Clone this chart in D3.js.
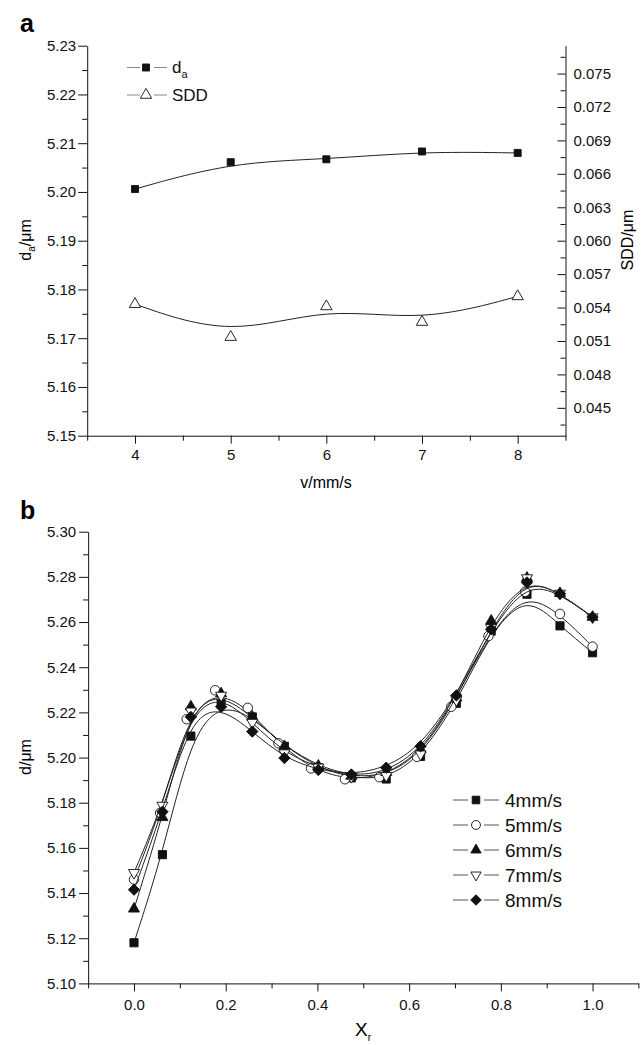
<!DOCTYPE html>
<html>
<head>
<meta charset="utf-8">
<script src="https://cdn.jsdelivr.net/npm/d3@7"></script>
<style>
  body { margin: 0; background: #fff; }
  svg { display: block; font-family: "Liberation Sans", Arial, sans-serif; }
  .axis path, .axis line { stroke: #111; }
  .axis text { font-size: 15px; fill: #111; }
</style>
</head>
<body>
<svg id="chart" width="641" height="1045"></svg>
<script>
// ---- panel a data ----
const speeds = [4, 5, 6, 7, 8];
const da = [5.2006, 5.2061, 5.2067, 5.2083, 5.208];
const sdd = [0.0543, 0.05135, 0.0541, 0.0527, 0.055];

const aXTicks = [4, 5, 6, 7, 8];
const aXMinor = [3.5, 4.5, 5.5, 6.5, 7.5, 8.5];
const aYTicks = [5.15, 5.16, 5.17, 5.18, 5.19, 5.2, 5.21, 5.22, 5.23];
const aYMinor = [5.155, 5.165, 5.175, 5.185, 5.195, 5.205, 5.215, 5.225];
const aRTicks = [0.045, 0.048, 0.051, 0.054, 0.057, 0.06, 0.063, 0.066, 0.069, 0.072, 0.075];
const aRMinor = [0.0435, 0.0465, 0.0495, 0.0525, 0.0555, 0.0585, 0.0615, 0.0645, 0.0675, 0.0705, 0.0735, 0.0765];

// ---- panel b data ----
const xr = [0, 0.062, 0.124, 0.19, 0.258, 0.328, 0.402, 0.474, 0.55, 0.625, 0.703, 0.779, 0.857, 0.929, 1.0];
const xr5 = [0, 0.057, 0.115, 0.177, 0.248, 0.315, 0.386, 0.46, 0.535, 0.617, 0.692, 0.773, 0.853, 0.929, 1.0];
const d4 = [5.118, 5.157, 5.2095, 5.224, 5.218, 5.205, 5.1955, 5.191, 5.1905, 5.2005, 5.224, 5.256, 5.2723, 5.2583, 5.2464];
const d5 = [5.146, 5.1755, 5.217, 5.2298, 5.222, 5.2063, 5.1952, 5.1904, 5.1913, 5.2003, 5.2225, 5.2538, 5.2734, 5.2636, 5.2491];
const d6 = [5.133, 5.1735, 5.2225, 5.2283, 5.218, 5.205, 5.1963, 5.1918, 5.1935, 5.2035, 5.2265, 5.2605, 5.2795, 5.2727, 5.2622];
const d7 = [5.149, 5.1788, 5.2205, 5.2275, 5.2155, 5.202, 5.1957, 5.1915, 5.192, 5.2015, 5.2255, 5.2575, 5.2795, 5.2727, 5.2622];
const d8 = [5.1415, 5.176, 5.218, 5.2225, 5.2115, 5.1998, 5.1945, 5.1925, 5.1955, 5.205, 5.2275, 5.2568, 5.2775, 5.2725, 5.2622];
const bLabels = ["4mm/s", "5mm/s", "6mm/s", "7mm/s", "8mm/s"];

const bXTicks = [0, 0.2, 0.4, 0.6, 0.8, 1.0];
const bXMinor = [-0.1, 0.1, 0.3, 0.5, 0.7, 0.9, 1.1];
const bYTicks = [5.1, 5.12, 5.14, 5.16, 5.18, 5.2, 5.22, 5.24, 5.26, 5.28, 5.3];
const bYMinor = [5.11, 5.13, 5.15, 5.17, 5.19, 5.21, 5.23, 5.25, 5.27, 5.29];

const svg = d3.select("#chart");

// marker drawing: kind = square | circle | up | down | diamond | upOpen
function marker(g, kind, size) {
  const s = size || 1;
  let path, rot = 0, fill = "#111";
  if (kind === "square") path = d3.symbol(d3.symbolSquare, 58 * s)();
  if (kind === "circle") { path = d3.symbol(d3.symbolCircle, 62 * s)(); fill = "#fff"; }
  if (kind === "up") path = d3.symbol(d3.symbolTriangle, 46 * s)();
  if (kind === "upOpen") { path = d3.symbol(d3.symbolTriangle, 40 * s)(); fill = "#fff"; }
  if (kind === "down") { path = d3.symbol(d3.symbolTriangle, 46 * s)(); rot = 180; fill = "#fff"; }
  if (kind === "diamond") { path = d3.symbol(d3.symbolSquare, 56 * s)(); rot = 45; }
  g.append("path")
    .attr("d", path)
    .attr("transform", `rotate(${rot})`)
    .attr("fill", fill)
    .attr("stroke", "#111")
    .attr("stroke-width", 0.9);
}

function drawSeries(g, x, y, xs, ys, kind, size) {
  const pts = xs.map((v, i) => [v, ys[i]]);
  const line = d3.line().x((d) => x(d[0])).y((d) => y(d[1])).curve(d3.curveBasis);
  g.append("path")
    .attr("d", line(pts))
    .attr("fill", "none")
    .attr("stroke", "#222")
    .attr("stroke-width", 1);
  g.append("g")
    .selectAll("g")
    .data(pts)
    .join("g")
    .attr("transform", (d) => `translate(${x(d[0])},${y(d[1])})`)
    .each(function () { marker(d3.select(this), kind, size); });
}

function minorAxis(g, axisFn, scale, values, size) {
  g.append("g")
    .attr("class", "axis")
    .call(axisFn(scale).tickValues(values).tickSize(size).tickFormat(""))
    .call((a) => a.select(".domain").remove());
}

// ================= panel a =================
const ax = d3.scaleLinear().domain([3.5, 8.5]).range([87.2, 565.5]);
const ay = d3.scaleLinear().domain([5.15, 5.23]).range([435.7, 45.7]);
const ayR = d3.scaleLinear().domain([0.0425, 0.0775]).range([435.7, 45.7]);

const pa = svg.append("g");

pa.append("g").attr("class", "axis").attr("transform", "translate(0,435.7)")
  .call(d3.axisBottom(ax).tickValues(aXTicks).tickSize(8).tickSizeOuter(0).tickPadding(6).tickFormat(d3.format("d")));
minorAxis(pa.append("g").attr("transform", "translate(0,435.7)"), d3.axisBottom, ax, aXMinor, 5);

pa.append("g").attr("class", "axis").attr("transform", "translate(87.2,0)")
  .call(d3.axisLeft(ay).tickValues(aYTicks).tickSize(9).tickSizeOuter(0).tickPadding(2).tickFormat(d3.format(".2f")));
minorAxis(pa.append("g").attr("transform", "translate(87.2,0)"), d3.axisLeft, ay, aYMinor, 5);

pa.append("g").attr("class", "axis").attr("transform", "translate(565.5,0)")
  .call(d3.axisRight(ayR).tickValues(aRTicks).tickSizeInner(-8).tickSizeOuter(0).tickPadding(8).tickFormat(d3.format(".3f")));
minorAxis(pa.append("g").attr("transform", "translate(565.5,0)"), d3.axisRight, ayR, aRMinor, -5);

drawSeries(pa, ax, ay, speeds, da, "square", 0.85);
drawSeries(pa, ax, ayR, speeds, sdd, "upOpen", 1.4);

// legend a
const legA = [{ kind: "square", y: 67.5, size: 0.85 }, { kind: "upOpen", y: 95, size: 1.4 }];
legA.forEach((d) => {
  pa.append("line").attr("x1", 127).attr("x2", 140).attr("y1", d.y).attr("y2", d.y).attr("stroke", "#888");
  pa.append("line").attr("x1", 154).attr("x2", 167).attr("y1", d.y).attr("y2", d.y).attr("stroke", "#888");
  marker(pa.append("g").attr("transform", `translate(146,${d.y})`), d.kind, d.size);
});
const tDa = pa.append("text").attr("x", 172).attr("y", 73).attr("font-size", 17).attr("fill", "#111");
tDa.append("tspan").text("d");
tDa.append("tspan").attr("font-size", 11).attr("dy", 5).text("a");
pa.append("text").attr("x", 172).attr("y", 101).attr("font-size", 17).attr("fill", "#111").text("SDD");

// titles a
pa.append("text").attr("x", 20).attr("y", 32).attr("font-size", 25).attr("font-weight", "bold").text("a");
pa.append("text").attr("x", 326).attr("y", 488).attr("text-anchor", "middle").attr("font-size", 16).text("v/mm/s");
const tYa = pa.append("text").attr("transform", "translate(31,240) rotate(-90)").attr("text-anchor", "middle").attr("font-size", 16);
tYa.append("tspan").text("d");
tYa.append("tspan").attr("font-size", 10).attr("dy", 4).text("a");
tYa.append("tspan").attr("dy", -4).text("/μm");
pa.append("text").attr("transform", "translate(633,240) rotate(-90)").attr("text-anchor", "middle").attr("font-size", 16).text("SDD/μm");

// ================= panel b =================
const bx = d3.scaleLinear().domain([-0.1, 1.1]).range([88.15, 638.4]);
const by = d3.scaleLinear().domain([5.1, 5.3]).range([983.4, 531.7]);

const pb = svg.append("g");

pb.append("g").attr("class", "axis").attr("transform", "translate(0,983.4)")
  .call(d3.axisBottom(bx).tickValues(bXTicks).tickSize(8).tickSizeOuter(0).tickPadding(8).tickFormat(d3.format(".1f")));
minorAxis(pb.append("g").attr("transform", "translate(0,983.4)"), d3.axisBottom, bx, bXMinor, 5);

pb.append("g").attr("class", "axis").attr("transform", "translate(88.15,0)")
  .call(d3.axisLeft(by).tickValues(bYTicks).tickSize(9).tickSizeOuter(0).tickPadding(3).tickFormat(d3.format(".2f")));
minorAxis(pb.append("g").attr("transform", "translate(88.15,0)"), d3.axisLeft, by, bYMinor, 5);

const bSeries = [
  { xs: xr, ys: d4, kind: "square" },
  { xs: xr5, ys: d5, kind: "circle" },
  { xs: xr, ys: d6, kind: "up" },
  { xs: xr, ys: d7, kind: "down" },
  { xs: xr, ys: d8, kind: "diamond" },
];
bSeries.forEach((s) => drawSeries(pb, bx, by, s.xs, s.ys, s.kind, 1.15));

// legend b
bSeries.forEach((s, i) => {
  const y = 800 + i * 25;
  pb.append("line").attr("x1", 453).attr("x2", 468).attr("y1", y).attr("y2", y).attr("stroke", "#555");
  pb.append("line").attr("x1", 484).attr("x2", 499).attr("y1", y).attr("y2", y).attr("stroke", "#555");
  marker(pb.append("g").attr("transform", `translate(476,${y})`), s.kind, 1.0);
  pb.append("text").attr("x", 505).attr("y", y).attr("dy", "0.36em").attr("font-size", 19).attr("fill", "#111").text(bLabels[i]);
});

// titles b
pb.append("text").attr("x", 20).attr("y", 519).attr("font-size", 25).attr("font-weight", "bold").text("b");
const tXb = pb.append("text").attr("x", 363).attr("y", 1036).attr("text-anchor", "middle").attr("font-size", 19);
tXb.append("tspan").text("X");
tXb.append("tspan").attr("font-size", 10).attr("dy", 5).text("r");
pb.append("text").attr("transform", "translate(31,757) rotate(-90)").attr("text-anchor", "middle").attr("font-size", 16).text("d/μm");
</script>
</body>
</html>
